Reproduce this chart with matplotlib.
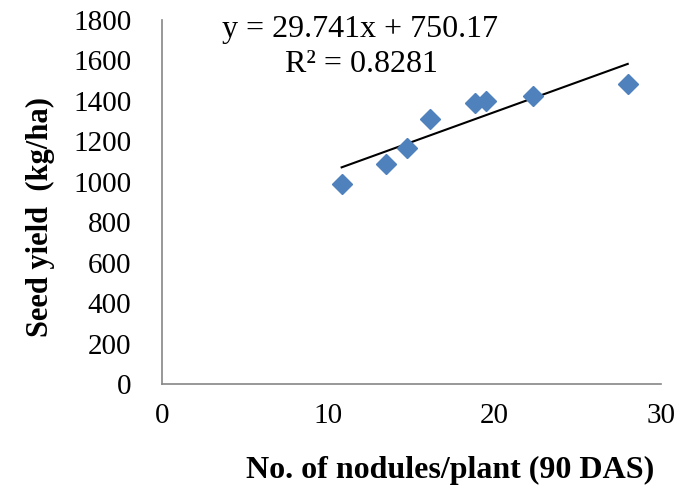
import numpy as np
import matplotlib.pyplot as plt

# nodules per plant vs seed yield
nodules = [10.8, 13.45, 14.7, 16.1, 18.8, 19.5, 22.3, 28.0]
seed_yield = [988, 1089, 1168, 1312, 1388, 1401, 1424, 1484]

slope = 29.741
intercept = 750.17
eq_text = "y = 29.741x + 750.17"
r2_text = "R² = 0.8281"

plt.rcParams["font.family"] = ["Liberation Serif", "DejaVu Serif"]

W, H = 696, 494
fig = plt.figure(figsize=(W / 100, H / 100), dpi=100)
ax = fig.add_axes([162 / W, 1 - 384 / H, 499 / W, 364 / H])

ax.plot(nodules, seed_yield, linestyle="none", marker="D",
        markersize=10, color="#4F81BD", zorder=3)

# linear trendline over the data range
xs = np.array([min(nodules), max(nodules)])
ax.plot(xs, slope * xs + intercept, color="black", linewidth=1.5, zorder=2)

ax.set_xlim(0, 30)
ax.set_ylim(0, 1800)
ax.set_xticks([0, 10, 20, 30])
ax.set_yticks(range(0, 1801, 200))
ax.tick_params(length=0, labelsize=21)
ax.tick_params(axis="y", pad=22)
ax.tick_params(axis="x", pad=14)

for side in ["top", "right"]:
    ax.spines[side].set_visible(False)
for side in ["left", "bottom"]:
    ax.spines[side].set_color("#868686")
    ax.spines[side].set_linewidth(1.2)

# axis titles placed like the Excel original (off-centre)
fig.text(450 / W, 1 - 470 / H, "No. of nodules/plant (90 DAS)",
         fontsize=23, fontweight="bold", ha="center", va="center")
fig.text(40 / W, 1 - 217 / H, "Seed yield  (kg/ha)", rotation=90,
         fontsize=22, fontweight="bold", ha="center", va="center")

fig.text(360 / W, 1 - 29 / H, eq_text, fontsize=23, ha="center", va="center")
fig.text(361 / W, 1 - 64 / H, r2_text, fontsize=23, ha="center", va="center")

fig.savefig("out.png", dpi=100)
